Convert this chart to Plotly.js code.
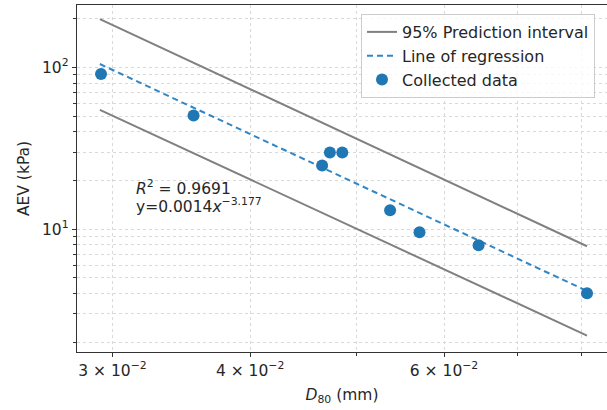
<!DOCTYPE html>
<html>
<head>
<meta charset="utf-8">
<script src="https://cdn.plot.ly/plotly-3.0.1.min.js"></script>
<style>html,body{margin:0;padding:0;background:#fff;}#chart{width:607px;height:410px;}</style>
</head>
<body>
<div id="chart"></div>
<script>
// Collected data
const d80 = [0.02929, 0.03554, 0.04650, 0.04726, 0.04850, 0.05360, 0.05700, 0.06449, 0.08090];
const aev = [91.0, 50.5, 24.8, 29.8, 29.8, 13.1, 9.58, 7.96, 4.02];
// Line endpoints
const lineX = [0.02922, 0.08090];
const regY = [105, 4.15];
const upperY = [199, 7.85];
const lowerY = [54.7, 2.20];
// Ticks
const xTickVals = [0.03, 0.04, 0.06];
const xTickText = ['3 × 10<sup>−2</sup>', '4 × 10<sup>−2</sup>', '6 × 10<sup>−2</sup>'];
const xMinorVals = [0.05, 0.07, 0.08];
const yTickVals = [10, 100];
const yTickText = ['10<sup>1</sup>', '10<sup>2</sup>'];
const yMinorVals = [2, 3, 4, 5, 6, 7, 8, 9, 20, 30, 40, 50, 60, 70, 80, 90, 200];

const FAM = 'DejaVu Sans, sans-serif';
const FS = 15.5;
const txtColor = '#262626';
const gray = '#808080';
const blue = '#1f77b4';

const traces = [
  {x: lineX, y: upperY, mode: 'lines', name: '95% Prediction interval',
   line: {color: gray, width: 2}, legendgroup: 'pi'},
  {x: lineX, y: lowerY, mode: 'lines', name: '95% Prediction interval',
   line: {color: gray, width: 2}, legendgroup: 'pi', showlegend: false},
  {x: lineX, y: regY, mode: 'lines', name: 'Line of regression',
   line: {color: '#3186c6', width: 2, dash: '6px,4px'}},
  {x: d80, y: aev, mode: 'markers', name: 'Collected data',
   marker: {color: blue, size: 12}}
];

const gridStyle = {gridcolor: '#d9d9d9', griddash: 'dot', gridwidth: 1};

const layout = {
  width: 607, height: 410,
  margin: {l: 77, r: 0, t: 5, b: 58},
  paper_bgcolor: '#fff', plot_bgcolor: '#fff',
  font: {family: FAM, size: FS, color: txtColor},
  showlegend: true,
  legend: {x: (361 - 77) / 530, y: (352 - 14) / 347, xanchor: 'left', yanchor: 'top',
           bgcolor: 'rgba(255,255,255,0.8)', bordercolor: '#cccccc', borderwidth: 1,
           font: {family: FAM, size: 16, color: txtColor},
           tracegroupgap: 0},
  xaxis: Object.assign({
    type: 'log', range: [-1.5551, -1.0739],
    tickmode: 'array', tickvals: xTickVals, ticktext: xTickText,
    ticks: 'outside', ticklen: 4, tickcolor: '#333',
    showline: true, linecolor: '#333', linewidth: 1.3, mirror: true,
    zeroline: false, showgrid: true,
    tickfont: {family: FAM, size: FS, color: txtColor},
    title: {text: '<i>D</i><sub>80</sub> (mm)', standoff: 10,
            font: {family: FAM, size: FS, color: txtColor}},
    minor: Object.assign({tickmode: 'array', tickvals: xMinorVals, ticks: 'outside',
            ticklen: 3, tickcolor: '#333', showgrid: true}, gridStyle)
  }, gridStyle),
  yaxis: Object.assign({
    type: 'log', range: [0.241, 2.386],
    tickmode: 'array', tickvals: yTickVals, ticktext: yTickText,
    ticks: 'outside', ticklen: 4, tickcolor: '#333',
    showline: true, linecolor: '#333', linewidth: 1.3, mirror: true,
    zeroline: false, showgrid: true,
    tickfont: {family: FAM, size: FS, color: txtColor},
    title: {text: 'AEV (kPa)', standoff: 8,
            font: {family: FAM, size: FS, color: txtColor}},
    minor: Object.assign({tickmode: 'array', tickvals: yMinorVals, ticks: 'outside',
            ticklen: 3, tickcolor: '#333', showgrid: true}, gridStyle)
  }, gridStyle),
  annotations: [
    {xref: 'paper', yref: 'paper', x: (134 - 77) / 530, y: (352 - 187) / 347,
     xanchor: 'left', yanchor: 'middle', showarrow: false,
     text: '<i>R</i><sup>2</sup> = 0.9691',
     font: {family: FAM, size: 15.5, color: txtColor}},
    {xref: 'paper', yref: 'paper', x: (134 - 77) / 530, y: (352 - 206) / 347,
     xanchor: 'left', yanchor: 'middle', showarrow: false,
     text: 'y=0.0014<i>x</i><sup>−3.177</sup>',
     font: {family: FAM, size: 15.5, color: txtColor}}
  ]
};

Plotly.newPlot('chart', traces, layout, {displayModeBar: false, staticPlot: true});
</script>
</body>
</html>
